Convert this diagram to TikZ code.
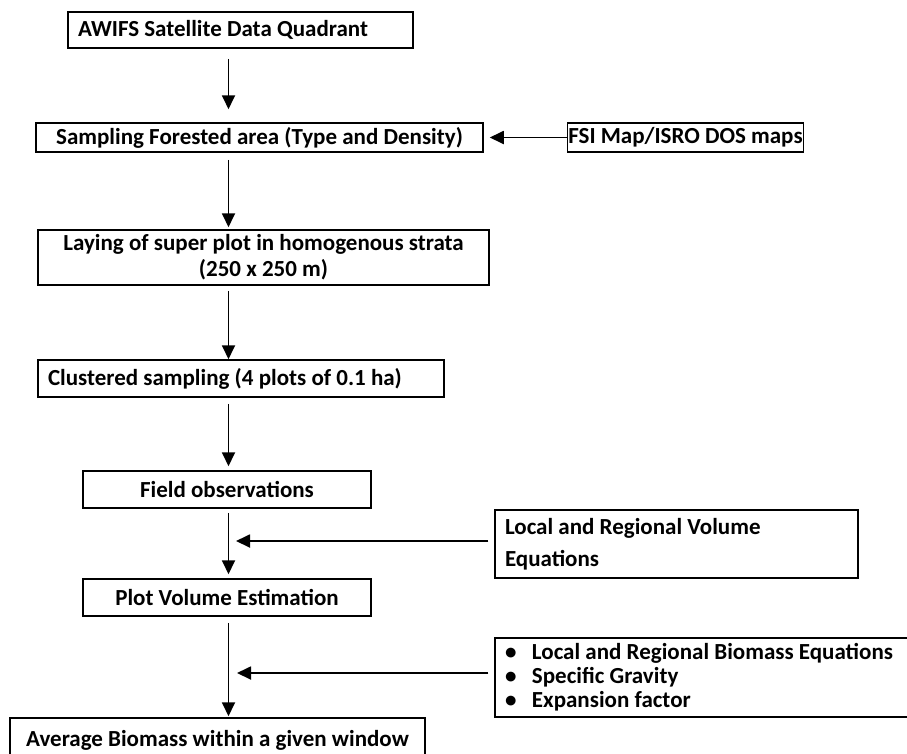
\documentclass[tikz,border=0pt]{standalone}
\usepackage{fontspec}
\setmainfont{Carlito}
\usetikzlibrary{arrows.meta,positioning,calc}

\begin{document}
\begin{tikzpicture}[x=1pt,y=-1pt,
    flowbox/.style={draw, line width=1.5pt, rectangle, inner xsep=10pt, inner ysep=0pt,
      font=\bfseries\fontsize{23}{26}\selectfont},
    flow/.style={line width=1.8pt, -{Triangle[length=14pt,width=13pt]}}]
    \useasboundingbox (0,0) rectangle (907,753);
    \coordinate (spine) at (228.5,0);

    % main chain
    \node[flowbox, text width=325pt, align=flush left, minimum height=36pt] (awifs) at (240.5,30) {AWIFS Satellite Data Quadrant};
    \node[flowbox, text width=427pt, align=flush center, minimum height=29pt] (sampling) at (259.5,137.5) {Sampling Forested area (Type and Density)};
    \node[flowbox, text width=431pt, align=flush center, minimum height=55pt] (laying) at (263.5,257.5) {Laying of super plot in homogenous strata\\(250 x 250 m)};
    \node[flowbox, text width=386pt, align=flush left, minimum height=37pt] (clustered) at (241,378.5) {Clustered sampling (4 plots of 0.1 ha)};
    \node[flowbox, text width=268pt, align=flush center, minimum height=37pt] (field) at (227,489.5) {Field observations};
    \node[flowbox, text width=268pt, align=flush center, minimum height=37pt] (plot) at (227,597.5) {Plot Volume Estimation};
    \node[flowbox, text width=395pt, align=flush center, minimum height=44pt] (avg) at (217.5,740) {Average Biomass within a given window};

    % side inputs
    \node[flowbox, minimum height=29pt, inner xsep=1pt] (fsi) at (685.5,137.5) {FSI Map/ISRO DOS maps};
    \node[flowbox, text width=343pt, align=flush left, minimum height=68pt, inner xsep=10pt,
      font=\bfseries\fontsize{23}{32}\selectfont] (local) at (676.5,544) {Local and Regional Volume\\Equations};
    \node[flowbox, text width=400pt, align=flush left, minimum height=79pt, inner xsep=10pt,
      font=\bfseries\fontsize{23}{24}\selectfont] (bullets) at (705,677.5)
      {\makebox[27pt][l]{\textbullet}Local and Regional Biomass Equations\\
       \makebox[27pt][l]{\textbullet}Specific Gravity\\
       \makebox[27pt][l]{\textbullet}Expansion factor};

    % arrows down
    \draw[flow, shorten <=10pt, shorten >=13pt] (awifs.south -| spine) -- (sampling.north -| spine);
    \draw[flow, shorten <=7pt, shorten >=2pt] (sampling.south -| spine) -- (laying.north -| spine);
    \draw[flow, shorten <=5pt] (laying.south -| spine) -- (clustered.north -| spine);
    \draw[flow, shorten <=6pt, shorten >=4pt] (clustered.south -| spine) -- (field.north -| spine);
    \draw[flow, shorten <=4pt, shorten >=4pt] (field.south -| spine) -- (plot.north -| spine);
    \draw[flow, shorten <=6pt, shorten >=1pt] (plot.south -| spine) -- (avg.north -| spine);

    % arrows in from the side
    \draw[flow, shorten >=6pt] (fsi.west) -- (sampling.east);
    \draw[flow, shorten <=6pt, shorten >=7.5pt] ([yshift=3pt]local.west) -- ([yshift=3pt]local.west -| spine);
    \draw[flow, shorten <=6pt, shorten >=8.5pt] ([yshift=4.5pt]bullets.west) -- ([yshift=4.5pt]bullets.west -| spine);
\end{tikzpicture}
\end{document}
